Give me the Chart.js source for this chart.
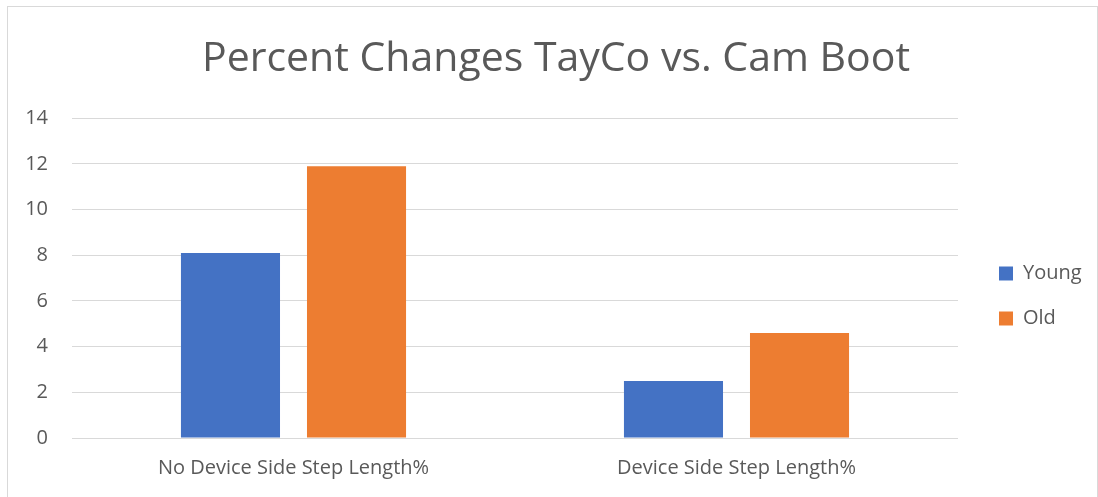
<!DOCTYPE html>
<html>
<head>
<meta charset="utf-8">
<script src="https://cdn.jsdelivr.net/npm/chart.js@4"></script>
<style>
  html, body { margin: 0; padding: 0; background: #fff; }
  #wrap { width: 1098px; height: 497px; }
</style>
</head>
<body>
<div id="wrap"><canvas id="chart" width="1098" height="497"></canvas></div>
<script>
const categories = ['No Device Side Step Length%', 'Device Side Step Length%'];
const youngValues = [8.1, 2.5];
const oldValues = [11.9, 4.6];
const yTicks = [0, 2, 4, 6, 8, 10, 12, 14];

const textColor = '#595959';
const fontFamily = '"Open Sans", "Noto Sans", sans-serif';

// light frame around the chart like the office export
const framePlugin = {
  id: 'frame',
  beforeDraw(chart) {
    const ctx = chart.ctx;
    ctx.save();
    ctx.fillStyle = '#fff';
    ctx.fillRect(0, 0, chart.width, chart.height);
    ctx.strokeStyle = '#d9d9d9';
    ctx.lineWidth = 1;
    ctx.strokeRect(7.5, 6.5, 1090, 500);
    ctx.restore();
  }
};

// legend sits a bit further from the plot and lower than chart.js puts it
const legendNudge = {
  id: 'legendNudge',
  beforeUpdate(chart) {
    const lg = chart.legend;
    if (!lg || lg._nudged) return;
    const fit = lg.fit;
    lg.fit = function () { fit.call(this); this.width = 140; };
    const draw = lg.draw;
    lg.draw = function () {
      this.left += 16; this.top += 47; this.bottom += 47;
      draw.call(this);
      this.left -= 16; this.top -= 47; this.bottom -= 47;
    };
    lg._nudged = true;
  }
};

new Chart(document.getElementById('chart').getContext('2d'), {
  type: 'bar',
  data: {
    labels: categories,
    datasets: [
      {
        label: 'Young',
        data: youngValues,
        backgroundColor: '#4472c4',
        categoryPercentage: 0.569,
        barPercentage: 0.786
      },
      {
        label: 'Old',
        data: oldValues,
        backgroundColor: '#ed7d31',
        categoryPercentage: 0.569,
        barPercentage: 0.786
      }
    ]
  },
  options: {
    responsive: false,
    animation: false,
    layout: { padding: { left: 14, right: 0, top: 8, bottom: 7 } },
    plugins: {
      title: {
        display: true,
        text: 'Percent Changes TayCo vs. Cam Boot',
        color: textColor,
        font: { family: fontFamily, size: 41, weight: 'normal' },
        padding: { top: 27, bottom: 34 }
      },
      legend: {
        position: 'right',
        labels: {
          color: textColor,
          font: { family: fontFamily, size: 20 },
          boxWidth: 14,
          boxHeight: 14,
          padding: 25
        }
      },
      tooltip: { enabled: false }
    },
    scales: {
      x: {
        grid: { display: false },
        border: { display: false },
        ticks: {
          color: textColor,
          font: { family: fontFamily, size: 20 },
          padding: 10
        }
      },
      y: {
        min: 0,
        max: 14,
        afterFit(scale) { scale.width = 58; },
        afterBuildTicks(scale) { scale.ticks = yTicks.map(v => ({ value: v })); },
        grid: { color: '#d9d9d9', drawTicks: false },
        border: { display: false },
        ticks: {
          color: textColor,
          font: { family: fontFamily, size: 20 },
          padding: 24
        }
      }
    }
  },
  plugins: [framePlugin, legendNudge]
});
</script>
</body>
</html>
